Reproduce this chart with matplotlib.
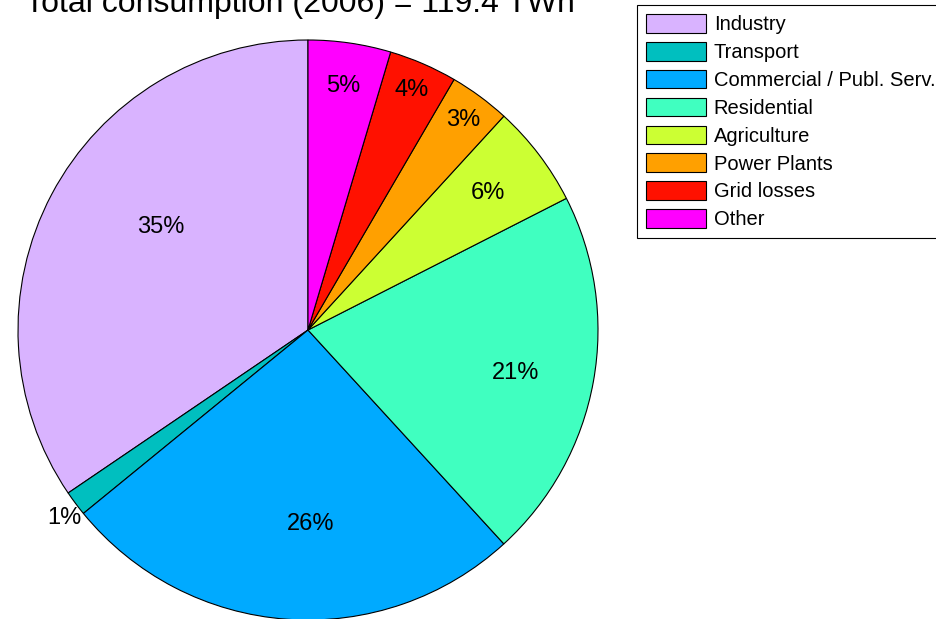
import numpy as np
import matplotlib
matplotlib.use("Agg")
import matplotlib.pyplot as plt

# DATA (share of total electricity consumption, %)
sectors = ["Industry", "Transport", "Commercial / Publ. Serv.", "Residential",
           "Agriculture", "Power Plants", "Grid losses", "Other"]
shares = [34.5, 1.4, 25.9, 20.7, 5.7, 3.4, 3.8, 4.6]
colors = ["#D9B3FF", "#00BFBF", "#00AAFF", "#40FFC0",
          "#CCFF33", "#FFA000", "#FF1100", "#FF00FF"]
title = "Total consumption (2006) = 119.4 TWh"

# label placement (fraction of radius, angle tweak in degrees)
label_r = [0.62, 1.06, 0.67, 0.73, 0.78, 0.90, 0.90, 0.85]
label_da = [-7, 1, 5, -1.5, 0, 0, 0, 0]

plt.rcParams["font.family"] = ["Liberation Sans", "DejaVu Sans"]

fig = plt.figure(figsize=(9.37, 6.19), dpi=100)
ax = fig.add_axes([18 / 937, -1 / 619, 580 / 937, 580 / 619])

wedges, _ = ax.pie(shares, colors=colors, startangle=90, counterclock=True,
                   radius=1.0, wedgeprops=dict(edgecolor="black", linewidth=0.8))
ax.set_xlim(-1, 1)
ax.set_ylim(-1, 1)
ax.set_aspect("auto")
ax.axis("off")

total = sum(shares)
for w, v, r, da in zip(wedges, shares, label_r, label_da):
    ang = np.deg2rad((w.theta1 + w.theta2) / 2 + da)
    ax.text(r * np.cos(ang), r * np.sin(ang), "%d%%" % round(v / total * 100 + 1e-9),
            ha="center", va="center", fontsize=17)

fig.text(300 / 937, 1 - 12 / 619, title, ha="center", va="baseline", fontsize=23)

leg = fig.legend(wedges, sectors, loc="upper left",
                 bbox_to_anchor=(637 / 937, 1 - 5 / 619), borderaxespad=0,
                 fontsize=14.5, handlelength=3.0, handleheight=1.05,
                 labelspacing=0.38, handletextpad=0.36, borderpad=0.45,
                 fancybox=False, framealpha=1)
leg.get_frame().set_edgecolor("black")
leg.get_frame().set_linewidth(0.8)

fig.savefig("out.png", dpi=100)
